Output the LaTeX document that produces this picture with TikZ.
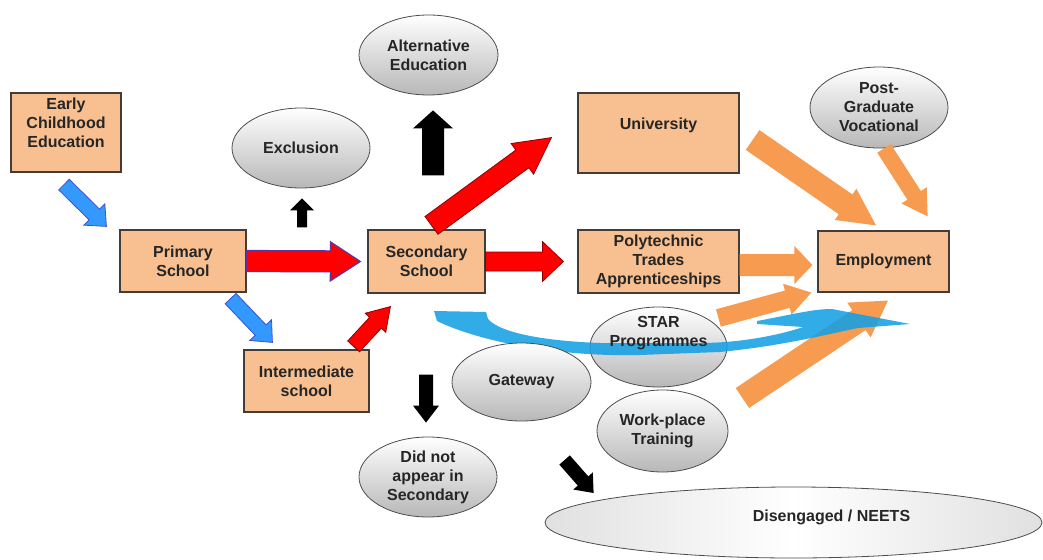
\documentclass[tikz,border=0pt]{standalone}
\usepackage{xcolor}
\usepackage{fontspec}
\setmainfont{Liberation Sans}
\usepackage{tikz}
\usetikzlibrary{calc}
\usetikzlibrary{arrows.meta}
\usetikzlibrary{shapes}
\usetikzlibrary{shapes.geometric}
\tikzset{>=latex}
\definecolor{peach}{RGB}{248,192,145}
\definecolor{boxedge}{RGB}{70,60,55}
\definecolor{arrblue}{RGB}{51,153,255}
\definecolor{arrblueedge}{RGB}{60,80,210}
\definecolor{swoosh}{RGB}{20,160,228}
\definecolor{arrorange}{RGB}{247,155,80}
\definecolor{arrpurple}{RGB}{95,50,165}
\tikzstyle{box} = [rectangle, draw=boxedge, line width=1.2pt, fill=peach, align=center, inner sep=0pt, text=black!85, font=\fontsize{16}{19}\selectfont\bfseries]
\tikzstyle{oval} = [ellipse, draw=black!70, line width=0.8pt, top color=white, bottom color=black!28, align=center, inner sep=0pt, text=black!85, font=\fontsize{16}{19}\selectfont\bfseries]
\tikzstyle{ovaltext} = [align=center, inner sep=0pt, text=black!85, font=\fontsize{16}{19}\selectfont\bfseries]
\tikzstyle{bluearr} = [fill=arrblue, draw=arrblueedge, line width=0.8pt]
\tikzstyle{redarr} = [fill=red, draw=red!55!black, line width=0.8pt]
\tikzstyle{blackarr} = [fill=black]
\tikzstyle{orangearr} = [fill=arrorange]

% block arrow: [style]{from}{to}{half shaft}{half head}{head length}
\newcommand{\blockarrow}[6][]{%
  \coordinate (ba) at (#2);
  \coordinate (bb) at (#3);
  \coordinate (bh) at ($(bb)!#6!(ba)$);
  \path[#1] ($(ba)!#4!90:(bb)$) -- ($(bh)!#4!-90:(ba)$) -- ($(bh)!#5!-90:(ba)$) -- (bb)
    -- ($(bh)!#5!90:(ba)$) -- ($(bh)!#4!90:(ba)$) -- ($(ba)!#4!-90:(bb)$) -- cycle;
}

\begin{document}
\begin{tikzpicture}[x=1pt, y=-1pt]
\useasboundingbox (0, 0) rectangle (1043, 559);

\node [box, minimum width=110pt, minimum height=79pt] (ece) at (66, 132.5) {Early\\Childhood\\Education\\\mbox{}};
\node [box, minimum width=126pt, minimum height=62pt] (prim) at (183, 261) {Primary\\School};
\node [box, minimum width=117pt, minimum height=63pt] (sec) at (426.5, 261.5) {Secondary\\School};
\node [box, minimum width=125pt, minimum height=62pt] (inter) at (306.5, 381) {Intermediate\\school};
\node [box, minimum width=161pt, minimum height=80pt] (uni) at (658.5, 133) {University\\\mbox{}};
\node [box, minimum width=161pt, minimum height=63pt] (poly) at (658.5, 261.5) {Polytechnic\\Trades\\Apprenticeships};
\node [box, minimum width=131pt, minimum height=61pt] (emp) at (883.5, 261.5) {Employment};

\node [oval, minimum width=138pt, minimum height=80pt] (excl) at (301, 148) {Exclusion};
\node [oval, minimum width=139pt, minimum height=80pt] (alt) at (428.5, 55) {Alternative\\Education};
\node [oval, minimum width=138pt, minimum height=81pt] (pgv) at (879, 107.5) {Post-\\Graduate\\Vocational};
\node [oval, minimum width=137pt, minimum height=80pt] (star) at (658.5, 347) {};
\node [oval, minimum width=131pt, minimum height=82pt] (wpt) at (662.5, 431) {Work-place\\Training};
\node [oval, minimum width=138pt, minimum height=80pt] (dnas) at (428, 477) {Did not\\appear in\\Secondary};
\node [oval, minimum width=497pt, minimum height=71pt, left color=black!12, right color=black!12, middle color=white] (neet) at (793.5, 522.5) {};
\node [ovaltext] (neettext) at ($(neet.center)+(38, -5)$) {Disengaged / NEETS};

\blockarrow[bluearr]{$(ece.south)+(-2, 12)$}{$(prim.north west)+(-13, -3)$}{7.5pt}{15pt}{17pt}
\blockarrow[bluearr]{$(prim.south east)+(-16, 6)$}{$(inter.north west)+(29, -7)$}{7.5pt}{15pt}{17pt}
\blockarrow[redarr, draw=arrpurple, line width=1.2pt]{prim.east}{$(sec.west)+(-7, 0)$}{10.5pt}{19.5pt}{30pt}
\blockarrow[redarr]{sec.east}{$(poly.west)+(-14, 0)$}{9.5pt}{20pt}{21pt}
\blockarrow[redarr]{$(sec.north)+(5, -4)$}{$(uni.south west)+(-26, -36)$}{11pt}{19pt}{36pt}
\blockarrow[redarr]{$(inter.north east)+(-16, -3)$}{$(sec.south west)+(23, 13)$}{8pt}{14pt}{22pt}
\blockarrow[blackarr]{$(excl.south)+(1, 39)$}{$(excl.south)+(1, 10)$}{5pt}{12pt}{12pt}
\blockarrow[blackarr]{$(sec.north)+(6.5, -54)$}{$(alt.south)+(4.5, 15)$}{11pt}{20pt}{18pt}
\blockarrow[blackarr]{$(dnas.north)+(-2, -62)$}{$(dnas.north)+(-2, -14)$}{7pt}{13pt}{17pt}
\blockarrow[blackarr]{$(neet.west)+(20, -62.5)$}{$(neet.west)+(49, -29.5)$}{7pt}{13pt}{16pt}
\blockarrow[orangearr]{$(uni.east)+(13, 7)$}{$(emp.north)+(-7.5, -5)$}{12pt}{19pt}{37pt}
\blockarrow[orangearr]{$(pgv.south)+(5, 0)$}{$(emp.north east)+(-22, -14)$}{8pt}{15pt}{25pt}
\blockarrow[orangearr]{$(poly.east)+(0, 3.5)$}{$(emp.west)+(-5, 3.5)$}{11pt}{19pt}{18pt}
\blockarrow[orangearr]{$(star.east)+(-9, -29)$}{$(emp.south west)+(-6, 0)$}{9pt}{16pt}{25pt}
\blockarrow[orangearr]{$(wpt.east)+(14, -33)$}{$(emp.south)+(4.5, 8)$}{12pt}{21pt}{35pt}

\fill [swoosh, fill opacity=0.88] (434, 311) -- (486, 312) -- (488, 319)
  .. controls (500, 333) and (545, 341) .. (600, 343) -- (700, 343)
  .. controls (740, 343) and (780, 335) .. (803, 327) -- (757, 324) -- (757, 321)
  .. controls (790, 315) and (812, 309) .. (832, 309) -- (910, 324) -- (858, 328)
  .. controls (820, 336) and (780, 346) .. (720, 352) -- (640, 355)
  .. controls (560, 357) and (480, 342) .. (437, 321) -- cycle;
\node [ovaltext] (startext) at ($(star.center)+(0, -14)$) {STAR\\Programmes};
\node [oval, minimum width=139pt, minimum height=78pt] (gate) at (521.5, 382) {Gateway};
\end{tikzpicture}
\end{document}
